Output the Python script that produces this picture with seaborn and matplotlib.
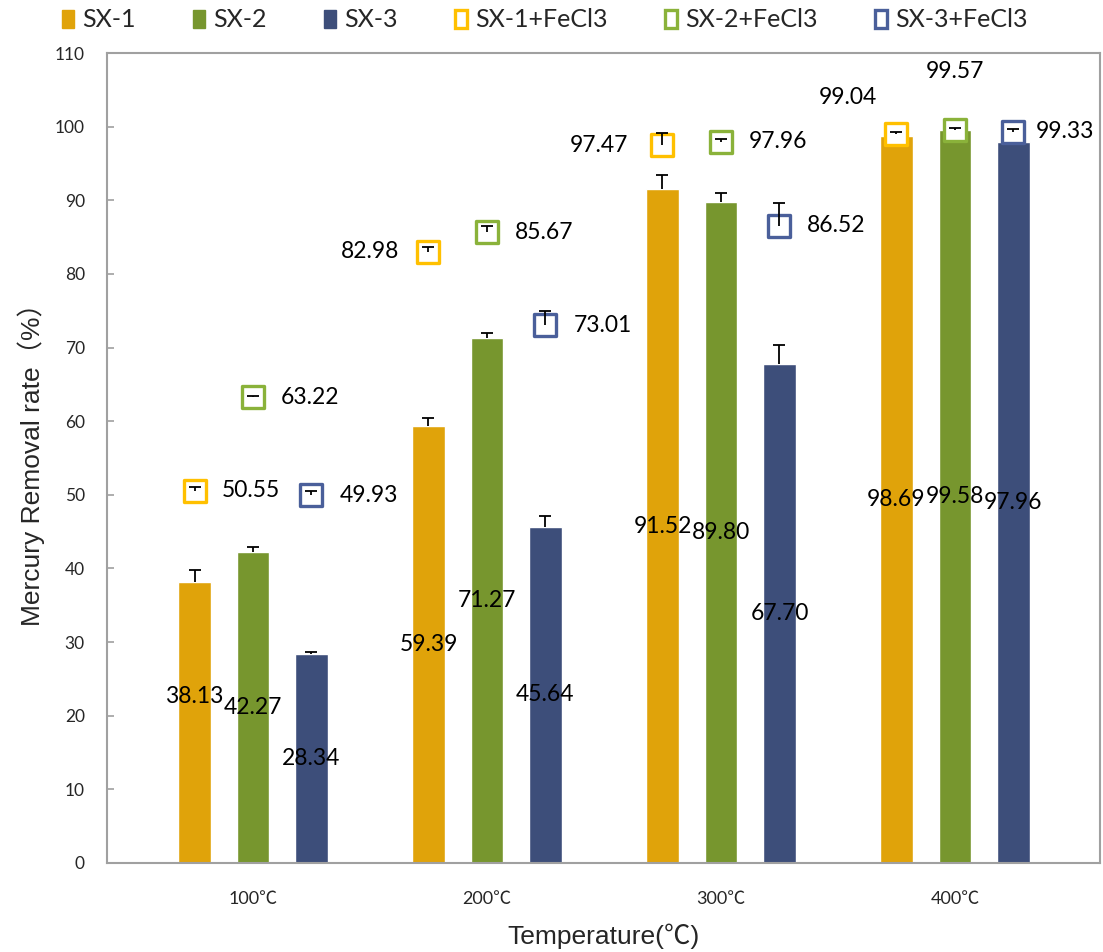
import matplotlib
matplotlib.use("Agg")
import matplotlib.pyplot as plt
from matplotlib.patches import Patch
import seaborn as sns
import pandas as pd
import numpy as np

# ---------------- data ----------------
temps = ["100℃", "200℃", "300℃", "400℃"]
series = ["SX-1", "SX-2", "SX-3"]
sx1 = [38.13, 59.39, 91.52, 98.69]
sx2 = [42.27, 71.27, 89.80, 99.58]
sx3 = [28.34, 45.64, 67.70, 97.96]
sx1_err = [1.6, 1.1, 1.9, 0.3]
sx2_err = [0.6, 0.7, 1.15, 0.2]
sx3_err = [0.35, 1.55, 2.6, 1.1]

fe_series = ["SX-1+FeCl3", "SX-2+FeCl3", "SX-3+FeCl3"]
sx1_fe = [50.55, 82.98, 97.47, 99.04]
sx2_fe = [63.22, 85.67, 97.96, 99.57]
sx3_fe = [49.93, 73.01, 86.52, 99.33]
sx1_fe_err = [0.55, 0.7, 1.7, 0.2]
sx2_fe_err = [0.25, 0.9, 0.35, 0.3]
sx3_fe_err = [0.6, 2.0, 3.05, 0.4]

# ---------------- styles ----------------
bar_colors = ["#E0A30A", "#77962E", "#3D4E7A"]
fe_colors = ["#FFC000", "#8AB23A", "#4A5F9A"]
# label offsets (points) for FeCl3 markers: (dx, dy, ha)
fe_label_pos = [
    [(20, 0, "left"), (-21, 0, "right"), (-25, 0, "right"), (-35, 26, "center")],
    [(20, 0, "left"), (20, 0, "left"), (20, 0, "left"), (0, 42, "center")],
    [(20, 0, "left"), (20, 0, "left"), (20, 0, "left"), (16, 0, "left")],
]
bar_label_dy = [[19, 0, 0, 0], [0, 0, 0, 0], [0, 0, 0, 0]]

TXT = ["Lato", "Noto Sans CJK SC", "DejaVu Sans"]
LAB = ["Liberation Sans", "Noto Sans CJK SC", "DejaVu Sans"]

sns.set_theme(style="white")
plt.rcParams["font.family"] = TXT

df = pd.DataFrame({
    "Temperature": temps * 3,
    "Series": np.repeat(series, len(temps)),
    "Value": sx1 + sx2 + sx3,
})

fig = plt.figure(figsize=(11.03, 9.52), dpi=100)
ax = fig.add_axes([0.097, 0.0935, 0.9003, 0.8508])

sns.barplot(data=df, x="Temperature", y="Value", hue="Series",
            palette=bar_colors, width=0.75, gap=0.44, errorbar=None,
            legend=False, ax=ax, saturation=1, zorder=2)
bar_conts = list(ax.containers)

bar_vals = [sx1, sx2, sx3]
bar_errs = [sx1_err, sx2_err, sx3_err]
fe_vals = [sx1_fe, sx2_fe, sx3_fe]
fe_errs = [sx1_fe_err, sx2_fe_err, sx3_fe_err]


def upper_err(xs, ys, errs, z):
    eb = ax.errorbar(xs, ys, yerr=[np.zeros(len(ys)), errs], fmt="none",
                     ecolor="black", elinewidth=1.3, capsize=4.5,
                     capthick=1.3, zorder=z)
    caps = eb[1]
    if len(caps) == 2:
        caps[0].set_visible(False)  # hide cap at the value end


for i, cont in enumerate(bar_conts):
    xs = [b.get_x() + b.get_width() / 2 for b in cont]
    vals = bar_vals[i]
    upper_err(xs, vals, bar_errs[i], 3)
    for j, (x, v) in enumerate(zip(xs, vals)):
        ax.annotate(f"{v:.2f}", (x, v / 2), xytext=(0, bar_label_dy[i][j]),
                    textcoords="offset points", ha="center", va="center",
                    fontsize=16.5, color="black", zorder=6)
    # FeCl3 markers
    fv = fe_vals[i]
    sns.scatterplot(x=xs, y=fv, marker="s", s=260, color="white",
                    edgecolor=fe_colors[i], linewidth=2.4, ax=ax, zorder=4,
                    legend=False)
    upper_err(xs, fv, fe_errs[i], 5)
    for j, (x, v) in enumerate(zip(xs, fv)):
        dx, dy, ha = fe_label_pos[i][j]
        ax.annotate(f"{v:.2f}", (x, v), xytext=(dx, dy),
                    textcoords="offset points", ha=ha, va="center",
                    fontsize=16.5, color="black", zorder=6)

ax.set_xlim(-0.624, 3.62)
ax.set_ylim(0, 110)
ax.set_yticks(np.arange(0, 111, 10))
for sp in ax.spines.values():
    sp.set_visible(True)
    sp.set_color("#A0A0A0")
    sp.set_linewidth(1.5)
ax.tick_params(axis="y", direction="in", length=5, width=1.2, color="#A0A0A0",
               labelsize=12.5, pad=16, left=True)
ax.tick_params(axis="x", length=0, labelsize=13, pad=20)
for t in ax.get_xticklabels() + ax.get_yticklabels():
    t.set_family(TXT)

ax.set_xlabel("Temperature(℃)", fontsize=19, family=LAB, labelpad=12)
ax.set_ylabel("Mercury Removal rate（%）", fontsize=19, family=LAB, labelpad=7)

handles = [Patch(facecolor=c, edgecolor=c) for c in bar_colors] + \
          [Patch(facecolor="white", edgecolor=c, linewidth=2.4) for c in fe_colors]
leg = fig.legend(handles, series + fe_series, loc="center left",
                 bbox_to_anchor=(0.047, 0.979), ncol=6, frameon=False,
                 fontsize=18, handlelength=0.5, handleheight=0.75,
                 handletextpad=0.3, columnspacing=2.3, borderaxespad=0)

fig.savefig("out.png", dpi=100)
